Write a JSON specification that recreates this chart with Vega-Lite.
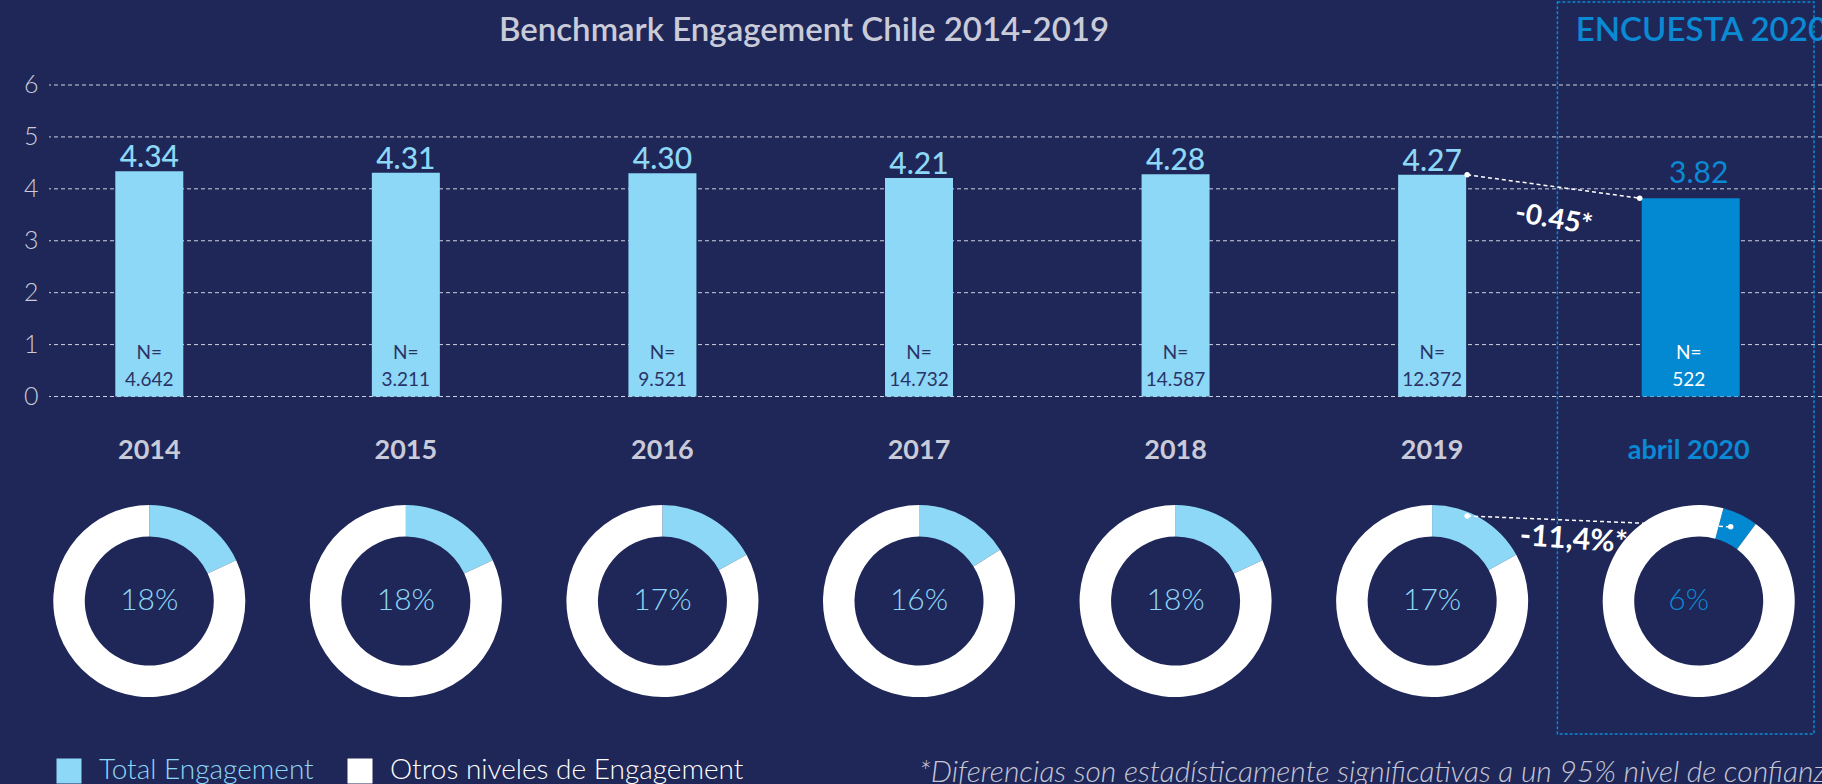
{
  "$schema": "https://vega.github.io/schema/vega-lite/v6.json",
  "width": 1773,
  "height": 784,
  "autosize": {"type": "none"},
  "padding": {"left": 49, "top": 0, "right": 0, "bottom": 0},
  "background": "#1f2758",
  "config": {"view": {"stroke": null}, "font": "Lato", "text": {"font": "Lato"}},
  "resolve": {"axis": {"x": "independent", "y": "independent"}},
  "datasets": {
    "bench": [
      {"year": "2014", "score": 4.34, "n": "4.642", "total_engagement": 0.18},
      {"year": "2015", "score": 4.31, "n": "3.211", "total_engagement": 0.18},
      {"year": "2016", "score": 4.30, "n": "9.521", "total_engagement": 0.17},
      {"year": "2017", "score": 4.21, "n": "14.732", "total_engagement": 0.16},
      {"year": "2018", "score": 4.28, "n": "14.587", "total_engagement": 0.18},
      {"year": "2019", "score": 4.27, "n": "12.372", "total_engagement": 0.17},
      {"year": "abril 2020", "score": 3.82, "n": "522", "total_engagement": 0.06}
    ],
    "gridlines": [{"v": 0}, {"v": 1}, {"v": 2}, {"v": 3}, {"v": 4}, {"v": 5}, {"v": 6}],
    "donut": [
      {"year": "2014", "segment": "Total Engagement", "pct": 18},
      {"year": "2014", "segment": "Otros niveles de Engagement", "pct": 82},
      {"year": "2015", "segment": "Total Engagement", "pct": 18},
      {"year": "2015", "segment": "Otros niveles de Engagement", "pct": 82},
      {"year": "2016", "segment": "Total Engagement", "pct": 17},
      {"year": "2016", "segment": "Otros niveles de Engagement", "pct": 83},
      {"year": "2017", "segment": "Total Engagement", "pct": 16},
      {"year": "2017", "segment": "Otros niveles de Engagement", "pct": 84},
      {"year": "2018", "segment": "Total Engagement", "pct": 18},
      {"year": "2018", "segment": "Otros niveles de Engagement", "pct": 82},
      {"year": "2019", "segment": "Total Engagement", "pct": 17},
      {"year": "2019", "segment": "Otros niveles de Engagement", "pct": 83},
      {"year": "abril 2020", "segment": "Total Engagement", "pct": 6},
      {"year": "abril 2020", "segment": "Otros niveles de Engagement", "pct": 94}
    ],
    "diff_score": [{"from": "2019", "to": "abril 2020", "v_from": 4.27, "v_to": 3.82, "label": "-0.45*"}],
    "diff_pct": [{"from": "2019", "to": "abril 2020", "label": "-11,4%*"}],
    "texts": [{
      "title": "Benchmark Engagement Chile 2014-2019",
      "header": "ENCUESTA 2020",
      "note": "*Diferencias son estadísticamente significativas a un 95% nivel de confianza"
    }]
  },
  "layer": [
    {
      "data": {"name": "gridlines"},
      "mark": {"type": "rule", "color": "#cfd2e0", "strokeWidth": 1, "strokeDash": [4, 3]},
      "encoding": {
        "y": {"field": "v", "type": "quantitative", "scale": {"domain": [-7.463, 7.637], "nice": false, "zero": false},
          "axis": {"values": [0, 1, 2, 3, 4, 5, 6], "format": "d", "grid": false, "domain": false, "ticks": false, "labelFont": "Lato", "labelFontSize": 25, "labelFontWeight": 300, "labelColor": "#c9cbd9", "labelPadding": 11, "title": null}}
      }
    },
    {
      "data": {"name": "bench"},
      "transform": [{"filter": "datum.year !== 'abril 2020'"}],
      "mark": {"type": "bar", "color": "#8dd7f7", "width": 68},
      "encoding": {
        "x": {"field": "year", "type": "nominal", "scale": {"domain": ["2014", "2015", "2016", "2017", "2018", "2019", "abril 2020"], "range": [-28, 1768], "paddingInner": 0, "paddingOuter": 0}, "axis": null},
        "y": {"field": "score", "type": "quantitative", "axis": null},
        "y2": {"datum": 0}
      }
    },
    {
      "data": {"name": "texts"},
      "mark": {"type": "rect", "fill": "transparent", "stroke": "#0a8ad4", "strokeWidth": 1.5, "strokeDash": [3, 2], "xOffset": -3, "x2Offset": 30},
      "encoding": {
        "x": {"datum": "abril 2020", "type": "nominal", "axis": null},
        "y": {"datum": 7.6, "type": "quantitative", "axis": null},
        "y2": {"datum": -6.5}
      }
    },
    {
      "data": {"name": "bench"},
      "transform": [{"filter": "datum.year === 'abril 2020'"}],
      "mark": {"type": "bar", "color": "#0388d2", "width": 98, "xOffset": 2},
      "encoding": {
        "x": {"field": "year", "type": "nominal", "axis": null},
        "y": {"field": "score", "type": "quantitative", "axis": null},
        "y2": {"datum": 0}
      }
    },
    {
      "data": {"name": "bench"},
      "transform": [{"filter": "datum.year !== 'abril 2020'"}],
      "mark": {"type": "text", "baseline": "alphabetic", "dy": -4, "fontSize": 30, "fontWeight": 500, "color": "#8dd7f7"},
      "encoding": {
        "x": {"field": "year", "type": "nominal", "axis": null},
        "y": {"field": "score", "type": "quantitative", "axis": null},
        "text": {"field": "score", "type": "quantitative", "format": ".2f"}
      }
    },
    {
      "data": {"name": "bench"},
      "transform": [{"filter": "datum.year === 'abril 2020'"}],
      "mark": {"type": "text", "baseline": "alphabetic", "dy": -15, "xOffset": 10, "fontSize": 30, "fontWeight": 400, "color": "#0a8ad4"},
      "encoding": {
        "x": {"field": "year", "type": "nominal", "axis": null},
        "y": {"field": "score", "type": "quantitative", "axis": null},
        "text": {"field": "score", "type": "quantitative", "format": ".2f"}
      }
    },
    {
      "data": {"name": "bench"},
      "mark": {"type": "text", "baseline": "middle", "dy": -44, "fontSize": 19, "fontWeight": 400},
      "encoding": {
        "x": {"field": "year", "type": "nominal", "axis": null},
        "y": {"datum": 0, "type": "quantitative", "axis": null},
        "text": {"value": "N="},
        "color": {"condition": {"test": "datum.year === 'abril 2020'", "value": "#ffffff"}, "value": "#2a3366"}
      }
    },
    {
      "data": {"name": "bench"},
      "mark": {"type": "text", "baseline": "middle", "dy": -17, "fontSize": 19, "fontWeight": 400},
      "encoding": {
        "x": {"field": "year", "type": "nominal", "axis": null},
        "y": {"datum": 0, "type": "quantitative", "axis": null},
        "text": {"field": "n", "type": "nominal"},
        "color": {"condition": {"test": "datum.year === 'abril 2020'", "value": "#ffffff"}, "value": "#2a3366"}
      }
    },
    {
      "data": {"name": "bench"},
      "mark": {"type": "text", "baseline": "middle", "fontSize": 27, "fontWeight": 700},
      "encoding": {
        "x": {"field": "year", "type": "nominal", "axis": null},
        "y": {"datum": -1.05, "type": "quantitative", "axis": null},
        "text": {"field": "year", "type": "nominal"},
        "color": {"condition": {"test": "datum.year === 'abril 2020'", "value": "#0a8ad4"}, "value": "#c9cbd9"}
      }
    },
    {
      "data": {"name": "donut"},
      "transform": [
        {"stack": "pct", "groupby": ["year"], "sort": [{"field": "segment", "order": "descending"}], "as": ["t0", "t1"]},
        {"filter": "datum.year !== 'abril 2020'"}
      ],
      "mark": {"type": "arc", "outerRadius": 96, "innerRadius": 64.5},
      "encoding": {
        "x": {"field": "year", "type": "nominal", "axis": null},
        "y": {"datum": -3.94, "type": "quantitative", "axis": null},
        "theta": {"field": "t0", "type": "quantitative", "scale": {"domain": [0, 100]}},
        "theta2": {"field": "t1"},
        "color": {"field": "segment", "type": "nominal",
          "scale": {"domain": ["Total Engagement", "Otros niveles de Engagement"], "range": ["#8dd7f7", "#ffffff"]},
          "legend": {"title": null, "orient": "none", "legendX": 6, "legendY": 757, "direction": "horizontal", "symbolType": "square", "symbolSize": 625, "symbolStrokeWidth": 0, "symbolOpacity": 1, "labelFont": "Lato", "labelFontSize": 28, "labelFontWeight": 300, "labelOffset": 16, "columnPadding": 32, "padding": 0, "labelLimit": 600,
            "encode": {"labels": {"update": {"fill": {"signal": "datum.label === 'Total Engagement' ? '#8dd7f7' : '#ffffff'"}}}}}
        }
      }
    },
    {
      "data": {"name": "donut"},
      "transform": [
        {"stack": "pct", "groupby": ["year"], "sort": [{"field": "segment", "order": "descending"}], "as": ["t0", "t1"]},
        {"filter": "datum.year === 'abril 2020'"}
      ],
      "mark": {"type": "arc", "outerRadius": 96, "innerRadius": 64.5, "thetaOffset": 0.26, "theta2Offset": 0.26, "xOffset": 10},
      "encoding": {
        "x": {"field": "year", "type": "nominal", "axis": null},
        "y": {"datum": -3.94, "type": "quantitative", "axis": null},
        "theta": {"field": "t0", "type": "quantitative"},
        "theta2": {"field": "t1"},
        "color": {"condition": {"test": "datum.segment === 'Total Engagement'", "value": "#0388d2"}, "field": "segment", "type": "nominal"}
      }
    },
    {
      "data": {"name": "bench"},
      "mark": {"type": "text", "baseline": "middle", "fontSize": 30, "fontWeight": 300},
      "encoding": {
        "x": {"field": "year", "type": "nominal", "axis": null},
        "y": {"datum": -3.94, "type": "quantitative", "axis": null},
        "text": {"field": "total_engagement", "type": "quantitative", "format": ".0%"},
        "color": {"condition": {"test": "datum.year === 'abril 2020'", "value": "#0a8ad4"}, "value": "#8dd7f7"}
      }
    },
    {
      "data": {"name": "diff_score"},
      "mark": {"type": "rule", "color": "#ffffff", "strokeWidth": 1.5, "strokeDash": [4, 3], "xOffset": 35, "x2Offset": -49},
      "encoding": {
        "x": {"field": "from", "type": "nominal", "axis": null},
        "x2": {"field": "to"},
        "y": {"field": "v_from", "type": "quantitative", "axis": null},
        "y2": {"field": "v_to"}
      }
    },
    {
      "data": {"name": "diff_score"},
      "mark": {"type": "circle", "color": "#ffffff", "opacity": 1, "size": 30, "xOffset": 35},
      "encoding": {
        "x": {"field": "from", "type": "nominal", "axis": null},
        "y": {"field": "v_from", "type": "quantitative", "axis": null}
      }
    },
    {
      "data": {"name": "diff_score"},
      "mark": {"type": "circle", "color": "#ffffff", "opacity": 1, "size": 30, "xOffset": -49},
      "encoding": {
        "x": {"field": "to", "type": "nominal", "axis": null},
        "y": {"field": "v_to", "type": "quantitative", "axis": null}
      }
    },
    {
      "data": {"name": "diff_score"},
      "mark": {"type": "text", "color": "#ffffff", "fontSize": 28, "fontWeight": 700, "baseline": "middle", "angle": 10, "xOffset": -135},
      "encoding": {
        "x": {"field": "to", "type": "nominal", "axis": null},
        "y": {"datum": 3.4, "type": "quantitative", "axis": null},
        "text": {"field": "label", "type": "nominal"}
      }
    },
    {
      "data": {"name": "diff_pct"},
      "mark": {"type": "rule", "color": "#ffffff", "strokeWidth": 1.5, "strokeDash": [4, 3], "xOffset": 35, "x2Offset": 42},
      "encoding": {
        "x": {"field": "from", "type": "nominal", "axis": null},
        "x2": {"field": "to"},
        "y": {"datum": -2.3, "type": "quantitative", "axis": null},
        "y2": {"datum": -2.51}
      }
    },
    {
      "data": {"name": "diff_pct"},
      "mark": {"type": "circle", "color": "#ffffff", "opacity": 1, "size": 30, "xOffset": 35},
      "encoding": {
        "x": {"field": "from", "type": "nominal", "axis": null},
        "y": {"datum": -2.3, "type": "quantitative", "axis": null}
      }
    },
    {
      "data": {"name": "diff_pct"},
      "mark": {"type": "circle", "color": "#ffffff", "opacity": 1, "size": 30, "xOffset": 42},
      "encoding": {
        "x": {"field": "to", "type": "nominal", "axis": null},
        "y": {"datum": -2.51, "type": "quantitative", "axis": null}
      }
    },
    {
      "data": {"name": "diff_pct"},
      "mark": {"type": "text", "color": "#ffffff", "fontSize": 30, "fontWeight": 700, "baseline": "middle", "angle": 4, "xOffset": -115},
      "encoding": {
        "x": {"field": "to", "type": "nominal", "axis": null},
        "y": {"datum": -2.76, "type": "quantitative", "axis": null},
        "text": {"field": "label", "type": "nominal"}
      }
    },
    {
      "data": {"name": "texts"},
      "mark": {"type": "text", "color": "#c9cbd9", "fontSize": 33, "fontWeight": 600, "baseline": "middle", "align": "center", "xOffset": -115},
      "encoding": {
        "x": {"datum": "2017", "type": "nominal", "axis": null},
        "y": {"datum": 7.04, "type": "quantitative", "axis": null},
        "text": {"field": "title", "type": "nominal"}
      }
    },
    {
      "data": {"name": "texts"},
      "mark": {"type": "text", "color": "#0a8ad4", "fontSize": 33, "fontWeight": 600, "baseline": "middle", "align": "left", "xOffset": -113},
      "encoding": {
        "x": {"datum": "abril 2020", "type": "nominal", "axis": null},
        "y": {"datum": 7.04, "type": "quantitative", "axis": null},
        "text": {"field": "header", "type": "nominal"}
      }
    },
    {
      "data": {"name": "texts"},
      "mark": {"type": "text", "color": "#c3c6d6", "fontSize": 30, "fontWeight": 300, "fontStyle": "italic", "baseline": "middle", "align": "left"},
      "encoding": {
        "x": {"datum": "2017", "type": "nominal", "axis": null},
        "y": {"datum": -7.25, "type": "quantitative", "axis": null},
        "text": {"field": "note", "type": "nominal"}
      }
    }
  ]
}
